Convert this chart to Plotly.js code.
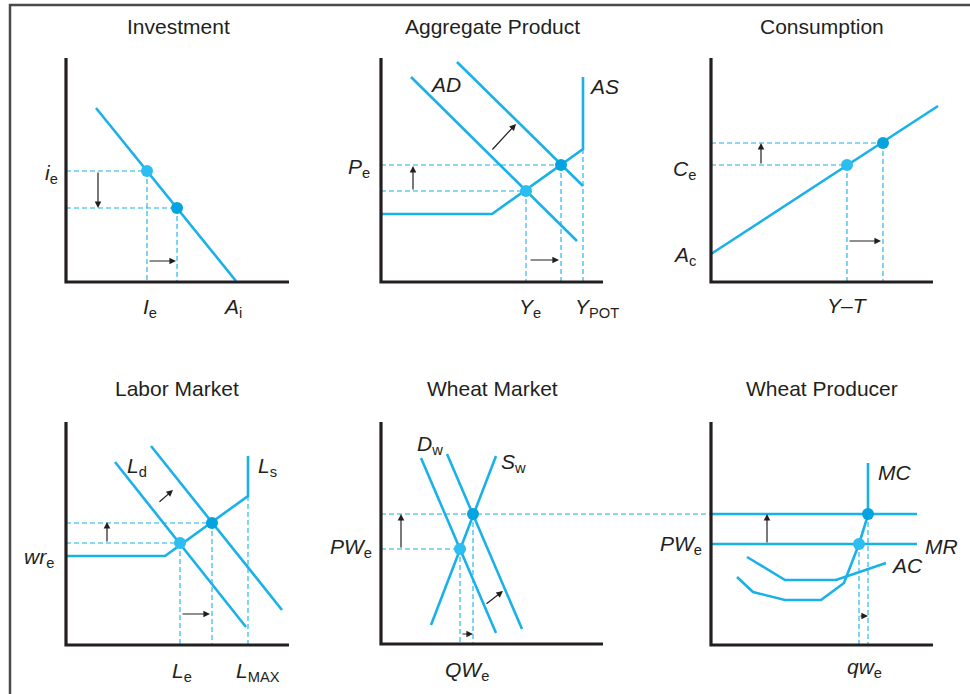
<!DOCTYPE html>
<html>
<head>
<meta charset="utf-8">
<script src="https://cdn.plot.ly/plotly-3.0.1.min.js"></script>
<style>html,body{margin:0;padding:0;background:#fff;}#chart{width:970px;height:694px;}</style>
</head>
<body>
<div id="chart"></div>
<script>
// ---------- Data (diagram coordinates) ----------
// Panel titles
const panelTitles = ["Investment", "Aggregate Product", "Consumption", "Labor Market", "Wheat Market", "Wheat Producer"];
const titleX = [178, 492, 822, 177, 492, 822];
const titleY = [26, 26, 26, 388, 388, 388];

// Axes (L-shaped) per panel: [yTop, origin, xRight]
const axisX0 = [66, 381, 711, 66, 381, 711];
const axisYTop = [58, 58, 58, 422, 422, 422];
const axisY0 = [282, 282, 282, 645, 644, 645];
const axisXRight = [289, 603, 933, 289, 603, 933];

// Investment
const invX = [96, 236];
const invY = [108, 281];
const invPtX = [147, 177];
const invPtY = [171, 208];

// Aggregate Product
const ad1X = [411, 577];
const ad1Y = [77, 241];
const ad2X = [457, 583];
const ad2Y = [62, 186];
const asX = [381, 492, 583, 583];
const asY = [214, 214, 149, 77];
const apPtX = [526, 561];
const apPtY = [191, 165];
const yPotX = 583;
const yPotY = 149;

// Consumption
const conX = [711, 938];
const conY = [254, 106];
const conPtX = [847, 883];
const conPtY = [165, 143];

// Labor Market
const ld1X = [115, 246];
const ld1Y = [462, 627];
const ld2X = [151, 282];
const ld2Y = [446, 610];
const lsX = [66, 165, 248, 248];
const lsY = [556, 556, 496, 456];
const labPtX = [180, 212];
const labPtY = [543, 523];
const lMaxX = 248;
const lMaxY = 496;

// Wheat Market
const dw1X = [421, 496];
const dw1Y = [458, 633];
const dw2X = [447, 522];
const dw2Y = [454, 629];
const swX = [431, 496];
const swY = [625, 456];
const wmPtX = [460, 473];
const wmPtY = [549, 514];

// Wheat Producer
const mrHighY = 514;
const mrLowY = 544;
const mrX = [711, 917];
const mcX = [737, 753, 785, 821, 844, 859, 868, 868];
const mcY = [577, 592, 600, 600, 583, 544, 515, 463];
const acX = [747, 785, 836, 886];
const acY = [557, 580, 580, 563];
const wpPtX = [859, 868];
const wpPtY = [544, 514];

// ---------- Styles ----------
const BLUE = "#1ab1e8";
const PT_LIGHT = "#2cbef0";
const PT_DARK = "#05a3e0";
const AXIS = "#231f20";
const TXT = "#231f20";

const traces = [];
function line(x, y, opts) {
  opts = opts || {};
  traces.push({
    type: "scatter", mode: "lines", x: x, y: y, hoverinfo: "skip",
    line: {color: opts.color || BLUE, width: opts.width || 2.6, dash: opts.dash || "solid", shape: "linear"}
  });
}
function dashed(x, y) { line(x, y, {width: 1.1, dash: "5px,3px"}); }
function points(x, y) {
  traces.push({type: "scatter", mode: "markers", x: [x[0]], y: [y[0]], hoverinfo: "skip",
    marker: {color: PT_LIGHT, size: 12, line: {width: 0}}});
  traces.push({type: "scatter", mode: "markers", x: [x[1]], y: [y[1]], hoverinfo: "skip",
    marker: {color: PT_DARK, size: 12, line: {width: 0}}});
}

// Frame
line([10, 10, 970], [694, 5, 5], {color: "#4a4a4a", width: 2.5});

// Investment
dashed([axisX0[0], invPtX[0]], [invPtY[0], invPtY[0]]);
dashed([axisX0[0], invPtX[1]], [invPtY[1], invPtY[1]]);
dashed([invPtX[0], invPtX[0]], [invPtY[0], axisY0[0]]);
dashed([invPtX[1], invPtX[1]], [invPtY[1], axisY0[0]]);
line(invX, invY);
points(invPtX, invPtY);

// Aggregate Product
dashed([axisX0[1], apPtX[1]], [apPtY[1], apPtY[1]]);
dashed([axisX0[1], apPtX[0]], [apPtY[0], apPtY[0]]);
dashed([apPtX[0], apPtX[0]], [apPtY[0], axisY0[1]]);
dashed([apPtX[1], apPtX[1]], [apPtY[1], axisY0[1]]);
dashed([yPotX, yPotX], [yPotY, axisY0[1]]);
line(ad1X, ad1Y);
line(ad2X, ad2Y);
line(asX, asY);
points(apPtX, apPtY);

// Consumption
dashed([axisX0[2], conPtX[1]], [conPtY[1], conPtY[1]]);
dashed([axisX0[2], conPtX[0]], [conPtY[0], conPtY[0]]);
dashed([conPtX[0], conPtX[0]], [conPtY[0], axisY0[2]]);
dashed([conPtX[1], conPtX[1]], [conPtY[1], axisY0[2]]);
line(conX, conY);
points(conPtX, conPtY);

// Labor Market
dashed([axisX0[3], labPtX[1]], [labPtY[1], labPtY[1]]);
dashed([axisX0[3], labPtX[0]], [labPtY[0], labPtY[0]]);
dashed([labPtX[0], labPtX[0]], [labPtY[0], axisY0[3]]);
dashed([labPtX[1], labPtX[1]], [labPtY[1], axisY0[3]]);
dashed([lMaxX, lMaxX], [lMaxY, axisY0[3]]);
line(ld1X, ld1Y);
line(ld2X, ld2Y);
line(lsX, lsY);
points(labPtX, labPtY);

// Wheat Market (upper dashed price line runs on into the producer panel)
dashed([axisX0[4], axisX0[5]], [wmPtY[1], wmPtY[1]]);
dashed([axisX0[4], wmPtX[0]], [wmPtY[0], wmPtY[0]]);
dashed([wmPtX[0], wmPtX[0]], [wmPtY[0], axisY0[4]]);
dashed([wmPtX[1], wmPtX[1]], [wmPtY[1], axisY0[4]]);
line(dw1X, dw1Y);
line(dw2X, dw2Y);
line(swX, swY);
points(wmPtX, wmPtY);

// Wheat Producer
dashed([wpPtX[0], wpPtX[0]], [wpPtY[0], axisY0[5]]);
dashed([wpPtX[1], wpPtX[1]], [wpPtY[1], axisY0[5]]);
line(mrX, [mrHighY, mrHighY]);
line(mrX, [mrLowY, mrLowY]);
line(acX, acY);
line(mcX, mcY);
points(wpPtX, wpPtY);

// Axes
for (let i = 0; i < 6; i++) {
  line([axisX0[i], axisX0[i], axisXRight[i]], [axisYTop[i], axisY0[i], axisY0[i]], {color: AXIS, width: 3.2});
}

// ---------- Annotations ----------
const ann = [];
function txt(x, y, t, size, xa) {
  ann.push({x: x, y: y, xref: "x", yref: "y", text: t, showarrow: false,
    xanchor: xa || "center", yanchor: "middle",
    font: {family: "Liberation Sans, Arial, sans-serif", size: size || 21, color: TXT}});
}
function arrow(x0, y0, x1, y1) {
  ann.push({x: x1, y: y1, ax: x0, ay: y0, xref: "x", yref: "y", axref: "x", ayref: "y",
    text: "", showarrow: true, arrowhead: 2, arrowsize: 1.1, arrowwidth: 1.2,
    arrowcolor: TXT, standoff: 0, startstandoff: 0});
}
for (let i = 0; i < 6; i++) txt(titleX[i], titleY[i], panelTitles[i], 21);

// Investment labels / arrows
txt(51, 174, "<i>i</i><sub>e</sub>", 21);
txt(150, 308, "<i>I</i><sub>e</sub>", 21);
txt(232, 308, "<i>A</i><sub>i</sub>", 21);
arrow(98, 171, 98, 208);
arrow(148, 261, 176, 261);

// Aggregate Product
txt(445, 84, "<i>AD</i>", 21);
txt(604, 86, "<i>AS</i>", 21);
txt(359, 168, "<i>P</i><sub>e</sub>", 21);
txt(530, 308, "<i>Y</i><sub>e</sub>", 21);
txt(597, 308, "<i>Y</i><sub>POT</sub>", 21);
arrow(413, 191, 413, 166);
arrow(529, 260, 559, 260);
arrow(491, 151, 516, 124);

// Consumption
txt(684, 170, "<i>C</i><sub>e</sub>", 21);
txt(684, 256, "<i>A</i><sub>c</sub>", 21);
txt(847, 305, "<i>Y</i>–<i>T</i>", 21);
arrow(761, 165, 761, 143);
arrow(848, 241, 881, 241);

// Labor Market
txt(137, 467, "<i>L</i><sub>d</sub>", 21);
txt(267, 467, "<i>L</i><sub>s</sub>", 21);
txt(39, 558, "<i>wr</i><sub>e</sub>", 21);
txt(182, 672, "<i>L</i><sub>e</sub>", 21);
txt(258, 672, "<i>L</i><sub>MAX</sub>", 21);
arrow(107, 543, 107, 522);
arrow(181, 614, 210, 614);
arrow(158, 503, 173, 490);

// Wheat Market
txt(430, 445, "<i>D</i><sub>w</sub>", 21);
txt(513, 463, "<i>S</i><sub>w</sub>", 21);
txt(351, 548, "<i>PW</i><sub>e</sub>", 21);
txt(467, 671, "<i>QW</i><sub>e</sub>", 21);
arrow(401, 549, 401, 514);
arrow(461, 634, 473, 634);
arrow(485, 605, 503, 591);

// Wheat Producer
txt(894, 472, "<i>MC</i>", 21);
txt(941, 546, "<i>MR</i>", 21);
txt(907, 565, "<i>AC</i>", 21);
txt(681, 545, "<i>PW</i><sub>e</sub>", 21);
txt(864, 668, "<i>qw</i><sub>e</sub>", 21);
arrow(767, 544, 767, 514);
arrow(859, 616, 868, 616);

const layout = {
  width: 970, height: 694,
  margin: {l: 0, r: 0, t: 0, b: 0},
  paper_bgcolor: "#ffffff", plot_bgcolor: "#ffffff",
  showlegend: false,
  xaxis: {range: [0, 970], visible: false, fixedrange: true},
  yaxis: {range: [694, 0], visible: false, fixedrange: true},
  annotations: ann
};
Plotly.newPlot("chart", traces, layout, {staticPlot: true, displayModeBar: false});
</script>
</body>
</html>
